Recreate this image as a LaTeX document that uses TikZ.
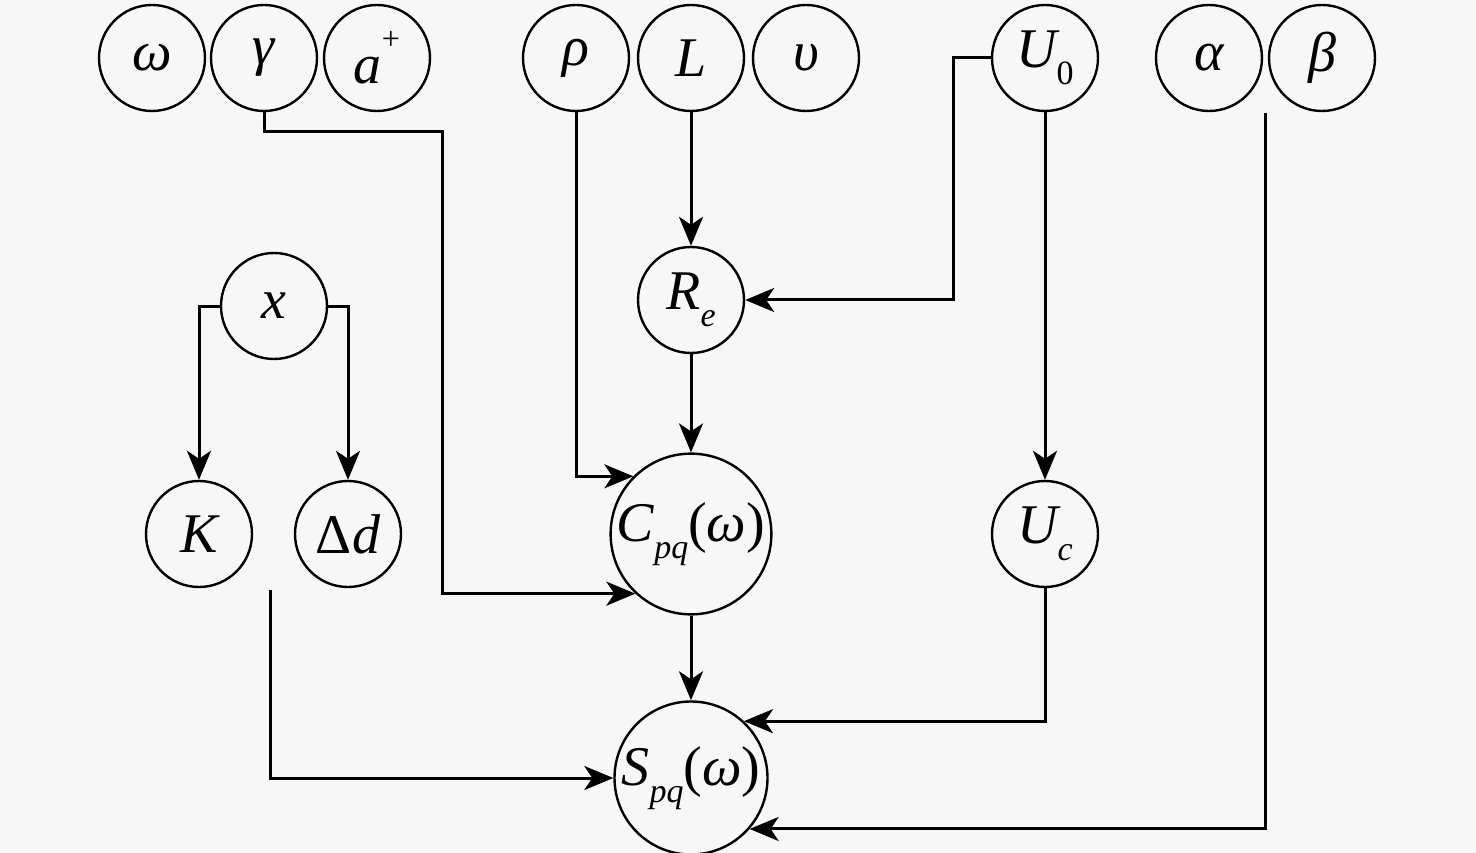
\documentclass[tikz,border=0pt]{standalone}
\usepackage{fontspec}
\setmainfont{Liberation Serif}
\usetikzlibrary{arrows.meta}
\newcommand{\sbt}[1]{\raisebox{-0.3em}{\fontsize{34}{34}\selectfont #1}}
\newcommand{\spt}[1]{\raisebox{0.6em}{\fontsize{32}{32}\selectfont\upshape #1}}
\begin{document}
\begin{tikzpicture}[x=1pt,y=-1pt,
  var/.style={circle,draw,line width=2.4pt,minimum size=106pt,inner sep=0pt,
    font=\fontsize{56}{60}\selectfont\itshape},
  big/.style={var,minimum size=153pt},
  arr/.style={line width=3pt,-{Stealth[length=29pt,width=24pt,inset=8pt]}}]
\fill[black!3] (0,0) rectangle (1476,853);
\useasboundingbox (0,0) rectangle (1476,853);
% top row
\node[var] (w) at (152,58) {ω};
\node[var] (g) at (264,58) {γ};
\node[var] (ap) at (377,58) {a\spt{+}};
\node[var] (rho) at (576,58) {ρ};
\node[var] (L) at (691,58) {L};
\node[var] (ups) at (806,58) {υ};
\node[var] (U0) at (1045,58) {U\sbt{\upshape 0}};
\node[var] (al) at (1209,58) {α};
\node[var] (be) at (1322,58) {β};
% middle
\node[var] (x) at (274,306) {x};
\node[var] (Re) at (691,300) {R\sbt{e}};
\node[var] (K) at (199,534) {K};
\node[var] (D) at (348,534) {{\upshape Δ}d};
\node[big] (C) at (691,534) {C\sbt{pq}{\upshape(}ω{\upshape)}};
\node[var] (Uc) at (1045,534) {U\sbt{c}};
\node[big] (S) at (691,778) {S\sbt{pq}{\upshape(}ω{\upshape)}};
% bend coordinates
\coordinate (gb) at (442,132);
\coordinate (ub) at (953,300);
\coordinate (kd) at (270,590);
\coordinate (bb) at (1265,113);
% connectors
\draw[arr] (g.south) |- (gb) |- (C.-133.3);
\draw[arr] (rho.south) |- (C.135.5);
\draw[arr] (L.south) -- (Re.north);
\draw[arr] (U0.west) -| (ub) -- (Re.east);
\draw[arr] (U0.south) -- (Uc.north);
\draw[arr] (Re.south) -- (C.north);
\draw[arr] (x.west) -| (K.north);
\draw[arr] (x.east) -| (D.north);
\draw[arr] (kd) |- (S.west);
\draw[arr] (C.south) -- (S.north);
\draw[arr] (Uc.south) |- (S.47.5);
\draw[arr] (bb) |- (S.-41.1);
\end{tikzpicture}
\end{document}
